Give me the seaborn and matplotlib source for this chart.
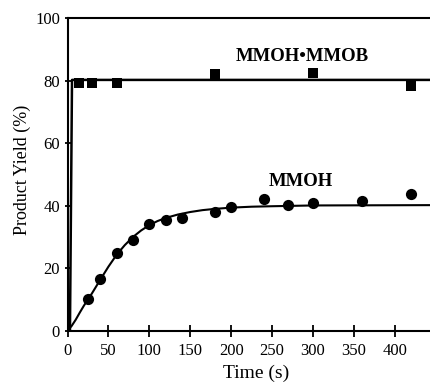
import matplotlib
matplotlib.use("Agg")
import matplotlib.pyplot as plt
import seaborn as sns
import pandas as pd

# ---- data ----
complex_time = [14, 30, 60, 180, 300, 420]
complex_yield = [79.2, 79.2, 79.2, 82.1, 82.6, 78.3]

mmoh_time = [25, 40, 60, 80, 100, 120, 140, 180, 200, 240, 270, 300, 360, 420]
mmoh_yield = [10.2, 16.6, 24.9, 28.9, 34.2, 35.6, 36.1, 37.9, 39.6, 42.2, 40.4, 40.9, 41.4, 43.8]

# fitted curves
complex_fit_time = [3, 5.5, 443]
complex_fit_yield = [0, 80.3, 80.3]

mmoh_fit_time = [0, 5, 10, 15, 20, 25, 30, 40, 50, 60, 70, 80, 90, 100, 110, 120,
                 135, 150, 165, 180, 200, 225, 250, 300, 443]
mmoh_fit_yield = [0, 1.5, 3.5, 5.8, 8.0, 10.0, 12.0, 16.3, 20.5, 24.3, 27.4, 30.0,
                  32.1, 33.8, 35.1, 36.1, 37.2, 38.0, 38.6, 39.0, 39.4, 39.7,
                  39.85, 40.1, 40.2]

x_ticks = [0, 50, 100, 150, 200, 250, 300, 350, 400]
y_ticks = [0, 20, 40, 60, 80, 100]

sns.set_style("ticks")
plt.rcParams["font.family"] = ["Liberation Serif", "DejaVu Serif"]
plt.rcParams["text.color"] = "black"
plt.rcParams["axes.labelcolor"] = "black"
plt.rcParams["xtick.color"] = "black"
plt.rcParams["ytick.color"] = "black"

fig = plt.figure(figsize=(4.30, 3.83), dpi=100)
ax = fig.add_axes([0.157, 0.1366, 0.843, 0.8154])

df_cf = pd.DataFrame({"t": complex_fit_time, "y": complex_fit_yield})
df_mf = pd.DataFrame({"t": mmoh_fit_time, "y": mmoh_fit_yield})
df_c = pd.DataFrame({"t": complex_time, "y": complex_yield})
df_m = pd.DataFrame({"t": mmoh_time, "y": mmoh_yield})

sns.lineplot(data=df_cf, x="t", y="y", ax=ax, color="black", lw=1.8,
             sort=False, estimator=None)
sns.lineplot(data=df_mf, x="t", y="y", ax=ax, color="black", lw=1.5,
             sort=False, estimator=None)
sns.scatterplot(data=df_c, x="t", y="y", ax=ax, marker="s", s=55,
                color="black", edgecolor="black", linewidth=0, zorder=3)
sns.scatterplot(data=df_m, x="t", y="y", ax=ax, marker="o", s=65,
                color="black", edgecolor="black", linewidth=0, zorder=3)

ax.set_xlim(0, 443)
ax.set_ylim(0, 100)
ax.set_xticks(x_ticks)
ax.set_yticks(y_ticks)

for side in ["left", "bottom", "top"]:
    ax.spines[side].set_linewidth(1.5)
    ax.spines[side].set_color("black")
ax.spines["right"].set_visible(False)

ax.tick_params(axis="x", direction="inout", length=8, width=1.3, pad=5,
               labelsize=12, colors="black")
ax.tick_params(axis="y", direction="inout", length=5, width=1.3, pad=3,
               labelsize=12, colors="black")

ax.set_xlabel("Time (s)", fontsize=14, color="black")
ax.set_ylabel("Product Yield (%)", fontsize=13, color="black")
ax.xaxis.label.set_va("center")
ax.yaxis.label.set_va("center")
ax.xaxis.set_label_coords(0.52, -0.138)
ax.yaxis.set_label_coords(-0.1255, 0.515)

ax.text(286.5, 87.8, "MMOH\u2022MMOB", fontsize=13.5, fontweight="bold",
        ha="center", va="center", color="black")
ax.text(285.5, 47.9, "MMOH", fontsize=13.5, fontweight="bold",
        ha="center", va="center", color="black")

fig.savefig("out.png", dpi=100)
